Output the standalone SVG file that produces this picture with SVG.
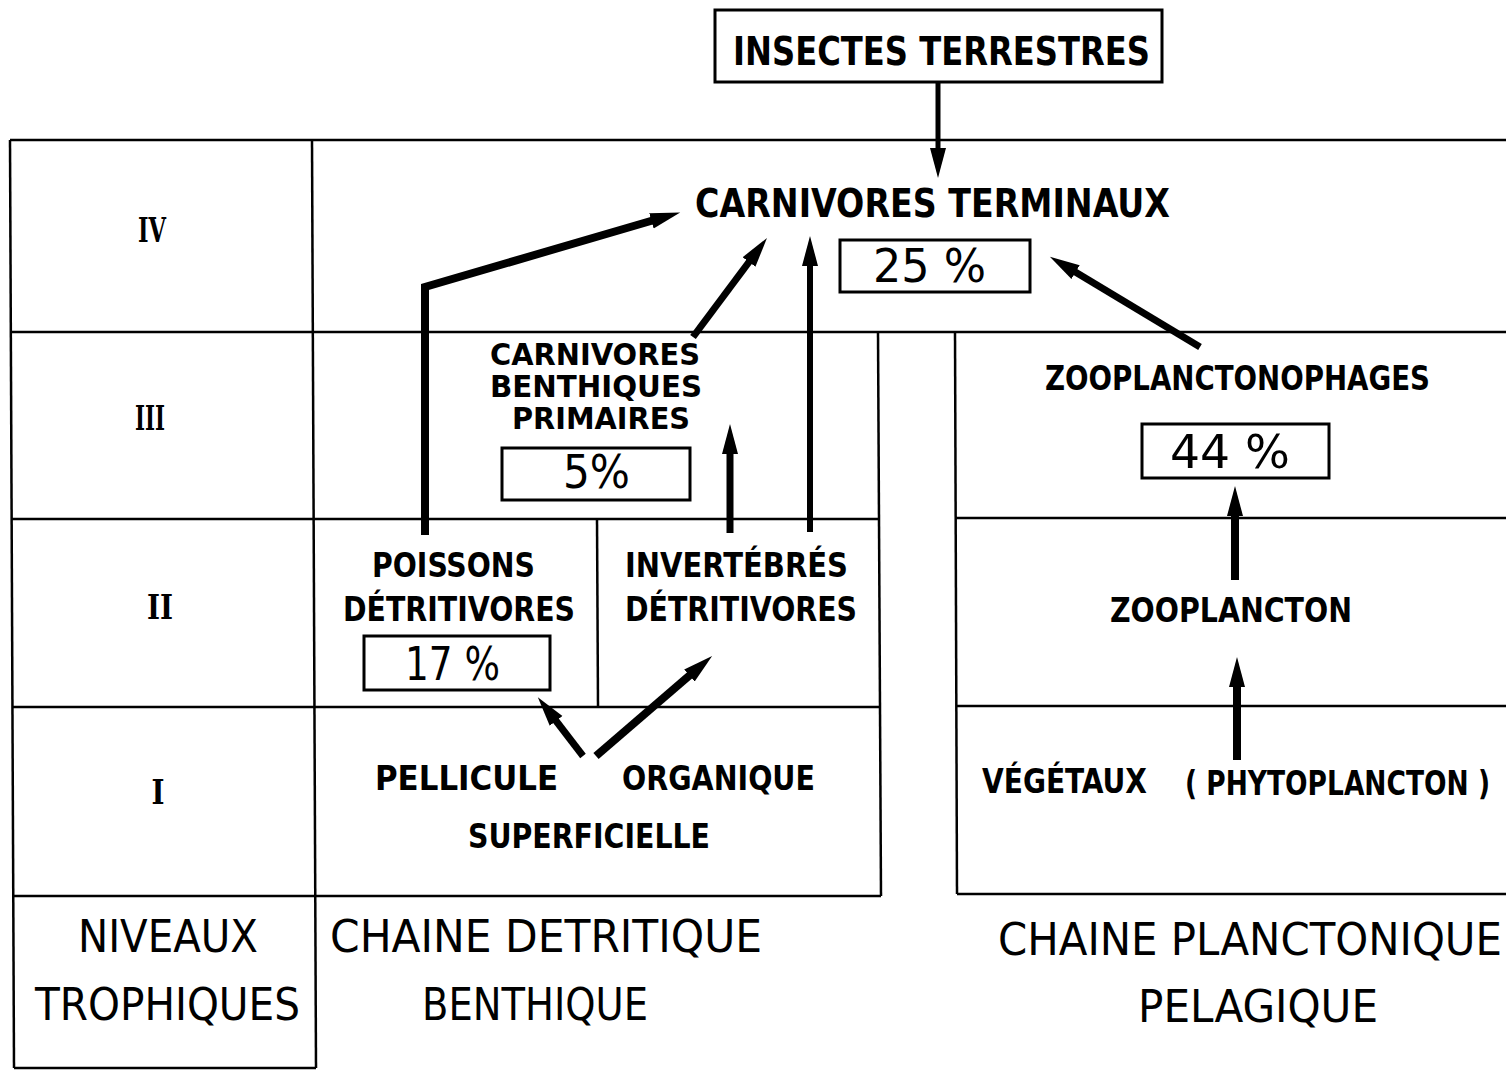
<svg xmlns="http://www.w3.org/2000/svg" width="1506" height="1070" viewBox="0 0 1506 1070">
<style>
  .grid { stroke: #000; stroke-width: 2.5; fill: none; }
  .box { stroke: #000; stroke-width: 3; fill: none; }
  .lbl { font-family: "DejaVu Sans Condensed", "DejaVu Sans", sans-serif; font-weight: bold; font-size: 33px; fill: #000; }
  .tight { font-size: 31px; }
  .big { font-family: "DejaVu Sans Condensed", "DejaVu Sans", sans-serif; font-weight: bold; font-size: 39px; fill: #000; }
  .pct { font-family: "DejaVu Sans Condensed", "DejaVu Sans", sans-serif; font-size: 46px; fill: #000; }
  .foot { font-family: "DejaVu Sans Condensed", "DejaVu Sans", sans-serif; font-size: 44px; fill: #000; }
  .rom { font-family: "DejaVu Serif", serif; font-weight: bold; font-size: 34px; fill: #000; }
  .arr { stroke: #000; fill: none; stroke-linejoin: miter; }
</style>
<defs>
  <marker id="ah" markerUnits="userSpaceOnUse" viewBox="0 -10 32 20" refX="10" refY="0" markerWidth="32" markerHeight="20" orient="auto">
    <path d="M0,-8 L30,0 L0,8 z" fill="#000"/>
  </marker>
</defs>
<rect width="1506" height="1070" fill="#fff"/>

<g id="grid">
  <line class="grid" x1="10" y1="140" x2="1506" y2="140"/>
  <line class="grid" x1="10" y1="332" x2="1506" y2="332"/>
  <line class="grid" x1="10" y1="140" x2="14" y2="1068"/>
  <line class="grid" x1="312" y1="140" x2="316" y2="1068"/>
  <line class="grid" x1="14" y1="1068" x2="316" y2="1068"/>
  <line class="grid" x1="878" y1="332" x2="881" y2="896"/>
  <line class="grid" x1="955" y1="332" x2="957" y2="894"/>
  <line class="grid" x1="11" y1="519" x2="879" y2="519"/>
  <line class="grid" x1="955" y1="518" x2="1506" y2="518"/>
  <line class="grid" x1="12" y1="707" x2="880" y2="707"/>
  <line class="grid" x1="956" y1="706" x2="1506" y2="706"/>
  <line class="grid" x1="14" y1="896" x2="881" y2="896"/>
  <line class="grid" x1="957" y1="894" x2="1506" y2="894"/>
  <line class="grid" x1="597" y1="519" x2="598" y2="707"/>
</g>

<g id="levels">
  <text class="rom" x="152" y="242" text-anchor="middle" textLength="28" lengthAdjust="spacingAndGlyphs">IV</text>
  <text class="rom" x="150" y="430" text-anchor="middle" textLength="30" lengthAdjust="spacingAndGlyphs">III</text>
  <text class="rom" x="160" y="619" text-anchor="middle" textLength="26" lengthAdjust="spacingAndGlyphs">II</text>
  <text class="rom" x="158" y="804" text-anchor="middle" textLength="13" lengthAdjust="spacingAndGlyphs">I</text>
</g>

<g id="insectes">
  <rect class="box" x="715" y="10" width="447" height="72"/>
  <text class="big" x="733" y="65" textLength="417" lengthAdjust="spacingAndGlyphs">INSECTES TERRESTRES</text>
</g>

<g id="carnivores-terminaux">
  <text class="big" x="695" y="217" textLength="475" lengthAdjust="spacingAndGlyphs">CARNIVORES TERMINAUX</text>
  <rect class="box" x="840" y="240" width="190" height="52"/>
  <text class="pct" x="873" y="282" textLength="113" lengthAdjust="spacingAndGlyphs">25 %</text>
</g>

<g id="carnivores-benthiques">
  <text class="lbl tight" x="490" y="365" textLength="210" lengthAdjust="spacingAndGlyphs">CARNIVORES</text>
  <text class="lbl tight" x="490" y="397" textLength="212" lengthAdjust="spacingAndGlyphs">BENTHIQUES</text>
  <text class="lbl tight" x="512" y="429" textLength="178" lengthAdjust="spacingAndGlyphs">PRIMAIRES</text>
  <rect class="box" x="502" y="448" width="188" height="52"/>
  <text class="pct" x="563" y="488" textLength="67" lengthAdjust="spacingAndGlyphs">5%</text>
</g>

<g id="zooplanctonophages">
  <text class="lbl" x="1045" y="390" textLength="385" lengthAdjust="spacingAndGlyphs">ZOOPLANCTONOPHAGES</text>
  <rect class="box" x="1142" y="424" width="187" height="54"/>
  <text class="pct" x="1170" y="468" textLength="120" lengthAdjust="spacingAndGlyphs">44 %</text>
</g>

<g id="poissons">
  <text class="lbl" x="372" y="577" textLength="163" lengthAdjust="spacingAndGlyphs">POISSONS</text>
  <text class="lbl" x="343" y="621" textLength="232" lengthAdjust="spacingAndGlyphs">DÉTRITIVORES</text>
  <rect class="box" x="364" y="636" width="186" height="54"/>
  <text class="pct" x="405" y="680" textLength="95" lengthAdjust="spacingAndGlyphs">17 %</text>
</g>

<g id="invertebres">
  <text class="lbl" x="625" y="577" textLength="223" lengthAdjust="spacingAndGlyphs">INVERTÉBRÉS</text>
  <text class="lbl" x="625" y="621" textLength="232" lengthAdjust="spacingAndGlyphs">DÉTRITIVORES</text>
</g>

<g id="zooplancton">
  <text class="lbl" x="1110" y="622" textLength="242" lengthAdjust="spacingAndGlyphs">ZOOPLANCTON</text>
</g>

<g id="pellicule">
  <text class="lbl" x="375" y="790" textLength="183" lengthAdjust="spacingAndGlyphs">PELLICULE</text>
  <text class="lbl" x="622" y="790" textLength="193" lengthAdjust="spacingAndGlyphs">ORGANIQUE</text>
  <text class="lbl" x="468" y="848" textLength="242" lengthAdjust="spacingAndGlyphs">SUPERFICIELLE</text>
</g>

<g id="vegetaux">
  <text class="lbl" x="982" y="793" textLength="165" lengthAdjust="spacingAndGlyphs">VÉGÉTAUX</text>
  <text class="lbl" x="1490" y="795" text-anchor="end" textLength="305" lengthAdjust="spacingAndGlyphs">( PHYTOPLANCTON )</text>
</g>

<g id="footer">
  <text class="foot" x="78" y="952" textLength="180" lengthAdjust="spacingAndGlyphs">NIVEAUX</text>
  <text class="foot" x="35" y="1020" textLength="265" lengthAdjust="spacingAndGlyphs">TROPHIQUES</text>
  <text class="foot" x="330" y="952" textLength="432" lengthAdjust="spacingAndGlyphs">CHAINE  DETRITIQUE</text>
  <text class="foot" x="422" y="1020" textLength="226" lengthAdjust="spacingAndGlyphs">BENTHIQUE</text>
  <text class="foot" x="998" y="955" textLength="504" lengthAdjust="spacingAndGlyphs">CHAINE PLANCTONIQUE</text>
  <text class="foot" x="1138" y="1022" textLength="240" lengthAdjust="spacingAndGlyphs">PELAGIQUE</text>
</g>

<g id="connectors">
  <line class="arr" stroke-width="5" x1="938" y1="82" x2="938" y2="158" marker-end="url(#ah)"/>
  <polyline class="arr" stroke-width="8" points="425,535 425,287 661,218" marker-end="url(#ah)"/>
  <line class="arr" stroke-width="7" x1="693" y1="337" x2="755" y2="254" marker-end="url(#ah)"/>
  <line class="arr" stroke-width="6" x1="810" y1="532" x2="810" y2="256" marker-end="url(#ah)"/>
  <line class="arr" stroke-width="7" x1="730" y1="533" x2="730" y2="444" marker-end="url(#ah)"/>
  <line class="arr" stroke-width="7" x1="1200" y1="347" x2="1067" y2="267" marker-end="url(#ah)"/>
  <line class="arr" stroke-width="8" x1="1235" y1="580" x2="1235" y2="506" marker-end="url(#ah)"/>
  <line class="arr" stroke-width="8" x1="1237" y1="760" x2="1237" y2="677" marker-end="url(#ah)"/>
  <line class="arr" stroke-width="7" x1="583" y1="756" x2="550" y2="713" marker-end="url(#ah)"/>
  <line class="arr" stroke-width="8" x1="596" y1="756" x2="697" y2="669" marker-end="url(#ah)"/>
</g>
</svg>
